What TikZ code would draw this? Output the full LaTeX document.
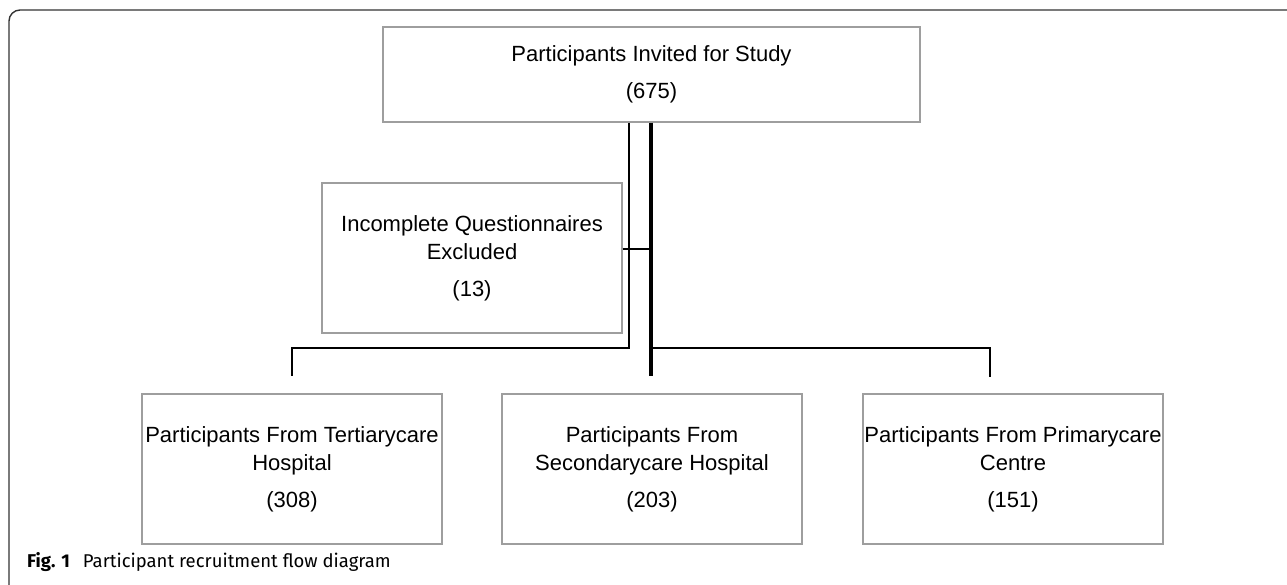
\documentclass[tikz,border=0pt]{standalone}
\usepackage{fontspec}
\setmainfont{Liberation Sans}
\newfontfamily\capfont{Fira Sans}
\begin{document}
\begin{tikzpicture}[x=1pt,y=-1pt,
  box/.style={draw=black!38, line width=1.4pt, minimum width=300pt, minimum height=150pt,
    align=center, inner sep=0pt, font=\fontsize{22}{28}\selectfont},
  conn/.style={draw=black, line width=2pt},
  thickconn/.style={draw=black, line width=4pt},
  frame/.style={draw=black!80, line width=1.4pt, rounded corners=11pt}]
\useasboundingbox (0,0) rectangle (1287,584);
\clip (0,0) rectangle (1287,584);
% frame
\draw[frame] (1300,10) -- (9,10) -- (9,600) -- (40,600);
% boxes
\node[box, minimum width=537pt, minimum height=95pt] (top) at (651.5,74.5) {Participants Invited for Study\\[9pt](675)};
\node[box] (inc) at (472,258) {Incomplete Questionnaires\\Excluded\\[9pt](13)};
\node[box] (left) at (292,469) {Participants From Tertiarycare\\Hospital\\[9pt](308)};
\node[box] (mid) at (652,469) {Participants From\\Secondarycare Hospital\\[9pt](203)};
\node[box] (right) at (1013,469) {Participants From Primarycare\\Centre\\[9pt](151)};
% connector coordinates
\coordinate (tA) at ([xshift=-22.5pt]top.south);
\coordinate (tB) at ([xshift=-0.5pt]top.south);
\coordinate (hy) at (0,348);
\coordinate (endL) at ([yshift=17pt]left.north);
\coordinate (endR) at (990,377);
\coordinate (incy) at ([yshift=9pt]inc.east);
% connectors
\draw[conn] (tA) -- (tA |- hy) -| (endL);
\draw[thickconn] (tB) -- (tB |- endL);
\draw[conn] (tB |- hy) -| (endR);
\draw[conn] (incy) -- (tB |- incy);
% caption
\node[anchor=base west, inner sep=0pt, font=\capfont\fontsize{18.5}{22}\selectfont] (cap) at (27,567)
  {\textbf{Fig. 1}\hspace{13pt}Participant recruitment flow diagram};
\end{tikzpicture}
\end{document}
